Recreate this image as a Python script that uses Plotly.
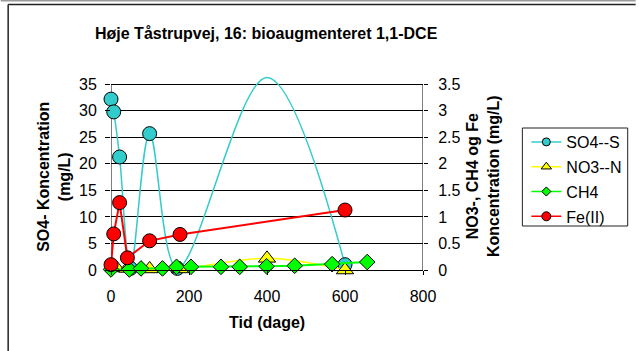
import plotly.graph_objects as go

# ---- data ----
so4_days = [0, 7, 22, 50, 99, 170, 400, 600]
so4_vals = [32.2, 29.8, 21.3, 0.3, 25.7, 0.3, 36.3, 1.0]

no3_days = [14, 42, 99, 177, 400, 600]
no3_vals = [0.04, 0.03, 0.02, 0.02, 0.22, 0.0]

ch4_days = [0, 47, 77, 132, 168, 205, 282, 330, 399, 471, 567, 657]
ch4_vals = [0.01, 0.01, 0.03, 0.03, 0.06, 0.06, 0.06, 0.06, 0.07, 0.08, 0.11, 0.15]

fe_days = [0, 7, 22, 42, 99, 177, 600]
fe_vals = [0.1, 0.68, 1.27, 0.23, 0.55, 0.67, 1.13]

x_ticks = [0, 200, 400, 600, 800]
y1_ticks = [0, 5, 10, 15, 20, 25, 30, 35]
y2_ticks = [0, 0.5, 1, 1.5, 2, 2.5, 3, 3.5]

TITLE = "Høje Tåstrupvej, 16: bioaugmenteret 1,1-DCE"
Y1_TITLE = "SO4- Koncentration<br>(mg/L)"
Y2_TITLE = "NO3-, CH4 og Fe<br>Koncentration (mg/L)"
X_TITLE = "Tid (dage)"

# ---- layout geometry ----
W, H = 639, 351
L, R, T, B = 111, 214, 75, 81
PW, PH = W - L - R, H - T - B
Y1_TOP = 36.75
Y2_TOP = 3.675


def px(xp):
    return (xp - L) / PW


def py(yp):
    return (H - B - yp) / PH


FONT = "Liberation Sans, Arial, sans-serif"
CYAN, YEL, GRN, RED = "#33CCCC", "#FFFF00", "#00FF00", "#FF0000"

fig = go.Figure()

# SO4 smoothed line (all points) + markers only for points inside the axis range
fig.add_trace(go.Scatter(x=so4_days, y=so4_vals, mode="lines",
                         line=dict(color=CYAN, width=1.5, shape="spline", smoothing=1),
                         showlegend=False, hoverinfo="skip"))
in_rng = [(d, v) for d, v in zip(so4_days, so4_vals) if v <= y1_ticks[-1]]
fig.add_trace(go.Scatter(x=[d for d, _ in in_rng], y=[v for _, v in in_rng], mode="markers",
                         marker=dict(symbol="circle", size=14, color=CYAN,
                                     line=dict(color="black", width=1)),
                         cliponaxis=False, showlegend=False))

fig.add_trace(go.Scatter(x=no3_days, y=no3_vals, mode="lines+markers", yaxis="y2",
                         line=dict(color=YEL, width=1.5, shape="spline", smoothing=1),
                         marker=dict(symbol="triangle-up", size=15, color=YEL,
                                     line=dict(color="black", width=1)),
                         cliponaxis=False, showlegend=False))
fig.add_trace(go.Scatter(x=ch4_days, y=ch4_vals, mode="lines+markers", yaxis="y2",
                         line=dict(color=GRN, width=2),
                         marker=dict(symbol="diamond", size=12, color=GRN,
                                     line=dict(color="black", width=1)),
                         cliponaxis=False, showlegend=False))
fig.add_trace(go.Scatter(x=fe_days, y=fe_vals, mode="lines+markers", yaxis="y2",
                         line=dict(color=RED, width=2),
                         marker=dict(symbol="circle", size=14, color=RED,
                                     line=dict(color="black", width=1)),
                         cliponaxis=False, showlegend=False))

# legend entries
for name, col, sym, sz in [("SO4--S", CYAN, "circle", 8), ("NO3--N", YEL, "triangle-up", 9),
                           ("CH4", GRN, "diamond", 7), ("Fe(II)", RED, "circle", 9)]:
    fig.add_trace(go.Scatter(x=[None], y=[None], mode="lines+markers", name=name,
                             legendgroup=name,
                             line=dict(color=col, width=1.5),
                             marker=dict(symbol=sym, size=sz, color=col,
                                         line=dict(color="black", width=1))))

axis_font = dict(family=FONT, size=16, color="black")

fig.update_layout(
    width=W, height=H,
    margin=dict(l=L, r=R, t=T, b=B, pad=0),
    paper_bgcolor="white", plot_bgcolor="white",
    font=dict(family=FONT, size=16, color="black"),
    showlegend=True,
    legend=dict(x=px(529), y=py(125), xanchor="left", yanchor="top",
                bgcolor="rgba(0,0,0,0)", borderwidth=0,
                font=dict(family=FONT, size=16, color="black"),
                traceorder="grouped", tracegroupgap=1),
    xaxis=dict(range=[0, 800], tickvals=x_ticks, showgrid=False, zeroline=False,
               showline=True, linecolor="black", linewidth=1,
               ticks="outside", ticklen=4, tickcolor="black",
               tickfont=axis_font, ticklabelstandoff=8),
    yaxis=dict(range=[0, Y1_TOP], tickvals=y1_ticks, showgrid=True, gridcolor="black",
               gridwidth=1, zeroline=False, showline=False,
               ticks="outside", ticklen=5, tickcolor="black",
               tickfont=axis_font, ticklabelstandoff=5),
    yaxis2=dict(range=[0, Y2_TOP], tickvals=y2_ticks, overlaying="y", side="right",
                showgrid=False, zeroline=False, showline=False,
                ticks="outside", ticklen=4, tickcolor="black",
                tickfont=axis_font, ticklabelstandoff=7),
    shapes=[
        # axis lines limited to the tick range
        dict(type="line", xref="x", yref="y", x0=x_ticks[0], x1=x_ticks[0], y0=0, y1=y1_ticks[-1],
             line=dict(color="black", width=1), layer="below"),
        dict(type="line", xref="x", yref="y", x0=x_ticks[-1], x1=x_ticks[-1], y0=0, y1=y1_ticks[-1],
             line=dict(color="black", width=1), layer="below"),
        # legend frame
        dict(type="rect", xref="paper", yref="paper", x0=px(525), x1=px(631), y0=py(128), y1=py(226),
             line=dict(color="#222222", width=1), fillcolor="white", layer="below"),
        # outer chart frame
        dict(type="line", xref="paper", yref="paper", x0=px(0), x1=px(W), y0=py(0.8), y1=py(0.8),
             line=dict(color="#9a9a9a", width=1.5)),
        dict(type="line", xref="paper", yref="paper", x0=px(7.5), x1=px(W), y0=py(4.5), y1=py(4.5),
             line=dict(color="#222222", width=1.5)),
        dict(type="line", xref="paper", yref="paper", x0=px(7.5), x1=px(7.5), y0=py(4.5), y1=py(H),
             line=dict(color="#222222", width=1.5)),
    ],
    annotations=[
        dict(text="<b>" + TITLE + "</b>", xref="paper", yref="paper", x=px(267), y=py(33),
             xanchor="center", yanchor="middle", showarrow=False,
             font=dict(family=FONT, size=16, color="black")),
        dict(text="<b>" + Y1_TITLE + "</b>", xref="paper", yref="paper", x=px(53.5), y=py(177),
             xanchor="center", yanchor="middle", showarrow=False, textangle=-90,
             font=dict(family=FONT, size=16, color="black")),
        dict(text="<b>" + Y2_TITLE + "</b>", xref="paper", yref="paper", x=px(485.5), y=py(176),
             xanchor="center", yanchor="middle", showarrow=False, textangle=-90,
             font=dict(family=FONT, size=16, color="black")),
        dict(text="<b>" + X_TITLE + "</b>", xref="paper", yref="paper", x=px(268), y=py(322),
             xanchor="center", yanchor="middle", showarrow=False,
             font=dict(family=FONT, size=16, color="black")),
    ],
)

fig.write_html("out.html", config={"displayModeBar": False},
               post_script="document.body.style.margin='0';")
